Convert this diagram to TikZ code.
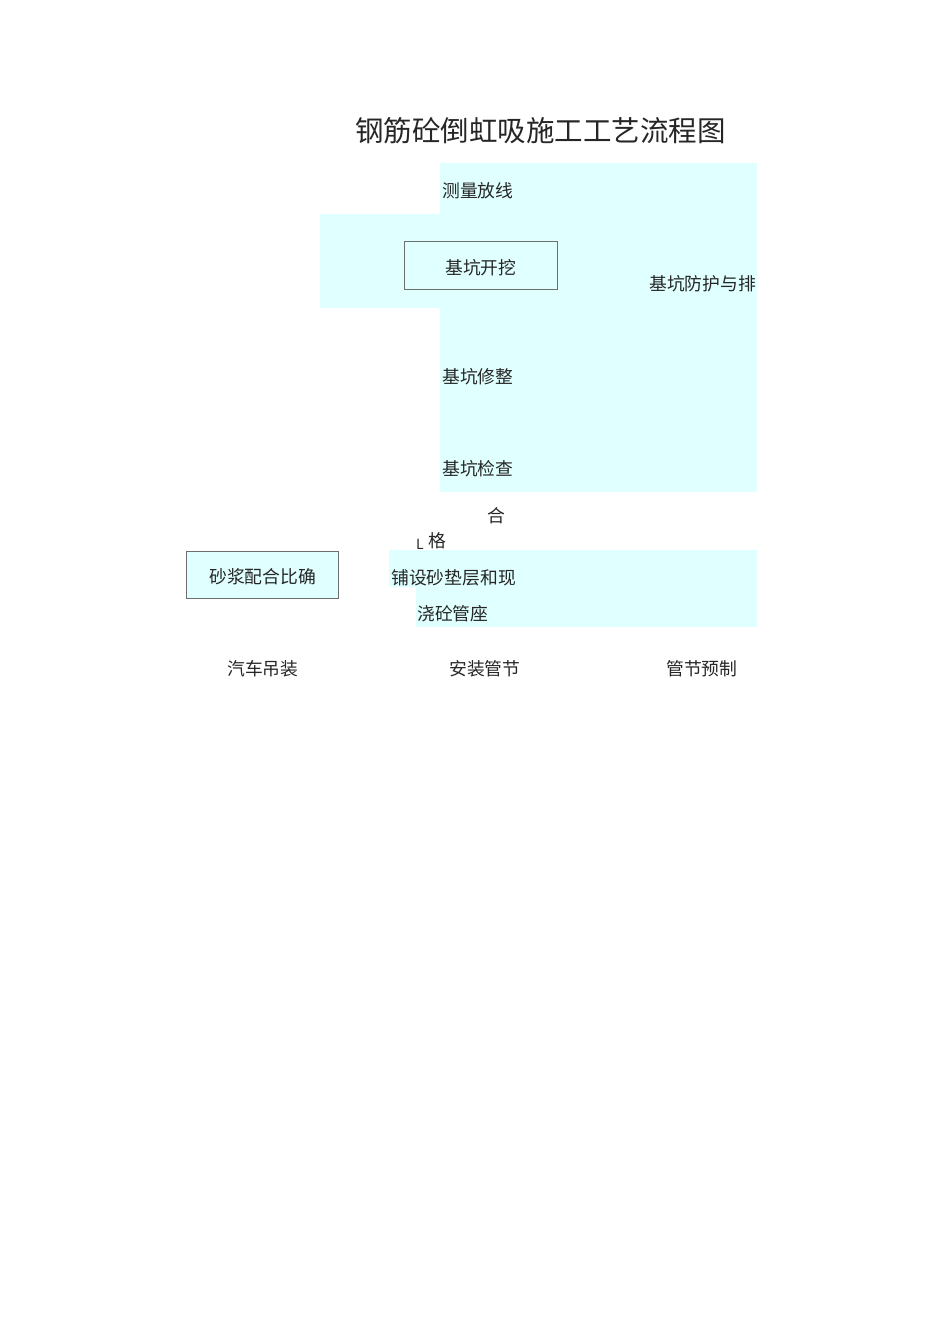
\documentclass[tikz,border=0pt]{standalone}
\usepackage{fontspec}
\setmainfont{Noto Sans CJK SC}
\definecolor{bgcyan}{RGB}{224,255,255}
\definecolor{boxline}{RGB}{110,110,110}
\tikzset{
  lbl/.style={anchor=west, inner sep=0pt, font=\fontsize{17.8}{20}\selectfont, text height=0.88em, text depth=0.12em, text=black!85},
  ttl/.style={anchor=west, inner sep=0pt, font=\fontsize{28.5}{32}\selectfont, text height=0.88em, text depth=0.12em, text=black!85},
  framebox/.style={draw=boxline, line width=0.9pt}
}
\begin{document}
\begin{tikzpicture}[x=1pt,y=-1pt]
\useasboundingbox (0,0) rectangle (950,1344);
% background fills
\fill[bgcyan] (440,163) rectangle (757,492);
\fill[bgcyan] (320,214) rectangle (440,308);
\fill[bgcyan] (389,550) -- (757,550) -- (757,627) -- (416,627) -- (416,587) -- (389,587) -- cycle;
% boxes
\draw[framebox] (404,241) rectangle (557,289);
\filldraw[framebox, fill=bgcyan] (186,551) rectangle (338,598);
% texts
\node[ttl] (title) at (355,138) {钢筋砼倒虹吸施工工艺流程图};
\node[lbl] (survey) at (442,194) {测量放线};
\node[lbl] (excav) at (445,271) {基坑开挖};
\node[lbl] (protect) at (649,287) {基坑防护与排};
\node[lbl] (trim) at (442,380) {基坑修整};
\node[lbl] (check) at (442,472) {基坑检查};
\node[lbl] (he) at (487,519) {合};
\node[anchor=base west, inner sep=0pt, font=\fontsize{14}{15}\selectfont, text=black!85] (ell) at (416,549) {L};
\node[lbl] (ge) at (428,544) {格};
\node[lbl] (mortar) at (209,580) {砂浆配合比确};
\node[lbl] (sand) at (391,581) {铺设砂垫层和现};
\node[lbl] (seat) at (417,617) {浇砼管座};
\node[lbl] (crane) at (227,672) {汽车吊装};
\node[lbl] (install) at (449,672) {安装管节};
\node[lbl] (precast) at (666,672) {管节预制};
\end{tikzpicture}
\end{document}
